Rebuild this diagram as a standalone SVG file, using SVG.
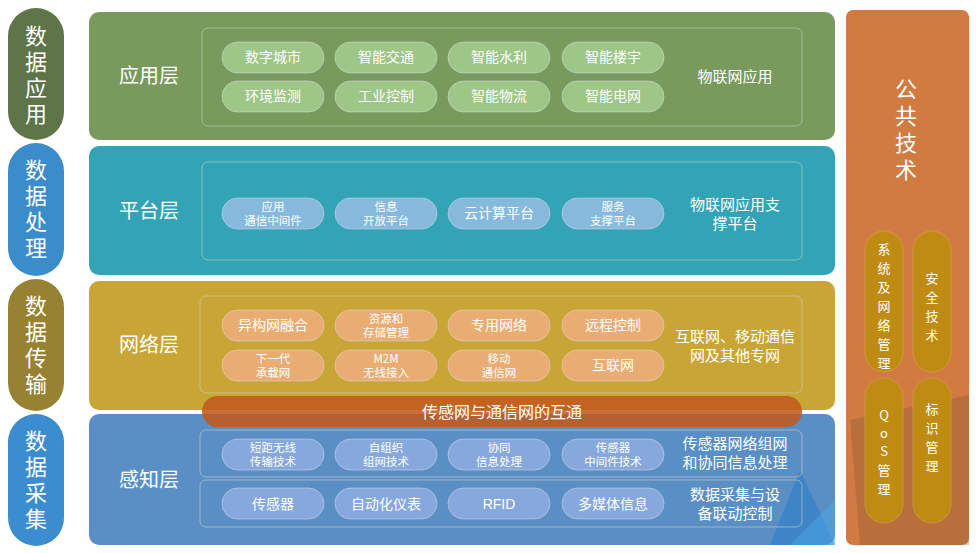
<svg xmlns="http://www.w3.org/2000/svg" width="979" height="553" viewBox="0 0 979 553">
<style>
text{font-family:"Noto Sans CJK SC","Liberation Sans",sans-serif;fill:#fff;text-anchor:middle}
.side{font-size:22px}
.layer{font-size:20px}
.chip{font-size:14px}
.chip2{font-size:11.5px}
.desc{font-size:15px}
.inner{fill:none;stroke:#c8d0c0;stroke-opacity:.6;stroke-width:1}
.c rect{stroke:#dde;stroke-opacity:.5}
</style>
<rect width="979" height="553" fill="#fff"/>
<g id="side-labels">
<rect x="8" y="8" width="56" height="132" rx="28" fill="#5d7549"/>
<text class="side" x="36" y="44">数</text><text class="side" x="36" y="70">据</text><text class="side" x="36" y="96">应</text><text class="side" x="36" y="122">用</text>
<rect x="8" y="143" width="56" height="133" rx="28" fill="#3a8ccb"/>
<text class="side" x="36" y="178">数</text><text class="side" x="36" y="204">据</text><text class="side" x="36" y="230">处</text><text class="side" x="36" y="256">理</text>
<rect x="8" y="279" width="56" height="132" rx="28" fill="#968232"/>
<text class="side" x="36" y="314">数</text><text class="side" x="36" y="340">据</text><text class="side" x="36" y="366">传</text><text class="side" x="36" y="392">输</text>
<rect x="8" y="414" width="56" height="132" rx="28" fill="#3c8dcf"/>
<text class="side" x="36" y="449">数</text><text class="side" x="36" y="475">据</text><text class="side" x="36" y="501">采</text><text class="side" x="36" y="527">集</text>
</g>
<g id="app-layer">
<rect x="89" y="12" width="746" height="128" rx="10" fill="#789a5c"/>
<text class="layer" x="149" y="83">应用层</text>
<rect class="inner" x="202" y="28" width="600" height="98" rx="6"/>
<g class="c" fill="#9dc687">
<rect x="222" y="42" width="102" height="31" rx="15.5"/><rect x="335" y="42" width="102" height="31" rx="15.5"/><rect x="448" y="42" width="102" height="31" rx="15.5"/><rect x="562" y="42" width="102" height="31" rx="15.5"/>
<rect x="222" y="81" width="102" height="31" rx="15.5"/><rect x="335" y="81" width="102" height="31" rx="15.5"/><rect x="448" y="81" width="102" height="31" rx="15.5"/><rect x="562" y="81" width="102" height="31" rx="15.5"/>
</g>
<text class="chip" x="273" y="62">数字城市</text><text class="chip" x="386" y="62">智能交通</text><text class="chip" x="499" y="62">智能水利</text><text class="chip" x="613" y="62">智能楼宇</text>
<text class="chip" x="273" y="101">环境监测</text><text class="chip" x="386" y="101">工业控制</text><text class="chip" x="499" y="101">智能物流</text><text class="chip" x="613" y="101">智能电网</text>
<text class="desc" x="735" y="82">物联网应用</text>
</g>
<g id="platform-layer">
<rect x="89" y="146" width="746" height="129" rx="10" fill="#33a4b5"/>
<text class="layer" x="149" y="218">平台层</text>
<rect class="inner" x="202" y="162" width="600" height="98" rx="6"/>
<g class="c" fill="#86b9dc">
<rect x="222" y="198" width="102" height="31" rx="15.5"/><rect x="335" y="198" width="102" height="31" rx="15.5"/><rect x="448" y="198" width="102" height="31" rx="15.5"/><rect x="562" y="198" width="102" height="31" rx="15.5"/>
</g>
<text class="chip2" x="273" y="211">应用</text><text class="chip2" x="273" y="225">通信中间件</text>
<text class="chip2" x="386" y="211">信息</text><text class="chip2" x="386" y="225">开放平台</text>
<text class="chip" x="499" y="218">云计算平台</text>
<text class="chip2" x="613" y="211">服务</text><text class="chip2" x="613" y="225">支撑平台</text>
<text class="desc" x="735" y="210">物联网应用支</text><text class="desc" x="735" y="229">撑平台</text>
</g>
<g id="network-layer">
<rect x="89" y="281" width="746" height="129" rx="10" fill="#c9a535"/>
<text class="layer" x="149" y="352">网络层</text>
<rect class="inner" x="200" y="296" width="602" height="97" rx="6"/>
<g class="c" fill="#e9ac72">
<rect x="222" y="310" width="102" height="31" rx="15.5"/><rect x="335" y="310" width="102" height="31" rx="15.5"/><rect x="448" y="310" width="102" height="31" rx="15.5"/><rect x="562" y="310" width="102" height="31" rx="15.5"/>
<rect x="222" y="350" width="102" height="31" rx="15.5"/><rect x="335" y="350" width="102" height="31" rx="15.5"/><rect x="448" y="350" width="102" height="31" rx="15.5"/><rect x="562" y="350" width="102" height="31" rx="15.5"/>
</g>
<text class="chip" x="273" y="330">异构网融合</text>
<text class="chip2" x="386" y="323">资源和</text><text class="chip2" x="386" y="337">存储管理</text>
<text class="chip" x="499" y="330">专用网络</text><text class="chip" x="613" y="330">远程控制</text>
<text class="chip2" x="273" y="363">下一代</text><text class="chip2" x="273" y="377">承载网</text>
<text class="chip2" x="386" y="363">M2M</text><text class="chip2" x="386" y="377">无线接入</text>
<text class="chip2" x="499" y="363">移动</text><text class="chip2" x="499" y="377">通信网</text>
<text class="chip" x="613" y="370">互联网</text>
<text class="desc" x="735" y="342">互联网、移动通信</text><text class="desc" x="735" y="361">网及其他专网</text>
</g>
<g id="sensing-layer">
<rect x="89" y="414" width="746" height="131" rx="10" fill="#5a8fc5"/>
<polygon points="770,545 800,470 835,545" fill="#2c7fc8" opacity=".6"/>
<polygon points="790,545 835,500 835,545" fill="#4aa8e8" opacity=".5"/>
<text class="layer" x="149" y="487">感知层</text>
<rect class="inner" x="200" y="430" width="602" height="47" rx="6"/>
<rect class="inner" x="200" y="480" width="602" height="47" rx="6"/>
<g class="c" fill="#86a8dc">
<rect x="222" y="439" width="102" height="31" rx="15.5"/><rect x="335" y="439" width="102" height="31" rx="15.5"/><rect x="448" y="439" width="102" height="31" rx="15.5"/><rect x="562" y="439" width="102" height="31" rx="15.5"/>
<rect x="222" y="488" width="102" height="31" rx="15.5"/><rect x="335" y="488" width="102" height="31" rx="15.5"/><rect x="448" y="488" width="102" height="31" rx="15.5"/><rect x="562" y="488" width="102" height="31" rx="15.5"/>
</g>
<text class="chip2" x="273" y="452">短距无线</text><text class="chip2" x="273" y="466">传输技术</text>
<text class="chip2" x="386" y="452">自组织</text><text class="chip2" x="386" y="466">组网技术</text>
<text class="chip2" x="499" y="452">协同</text><text class="chip2" x="499" y="466">信息处理</text>
<text class="chip2" x="613" y="452">传感器</text><text class="chip2" x="613" y="466">中间件技术</text>
<text class="chip" x="273" y="509">传感器</text><text class="chip" x="386" y="509">自动化仪表</text>
<text class="chip" x="499" y="509" style="font-family:'Liberation Sans',sans-serif">RFID</text><text class="chip" x="613" y="509">多媒体信息</text>
<text class="desc" x="735" y="449">传感器网络组网</text><text class="desc" x="735" y="468">和协同信息处理</text>
<text class="desc" x="735" y="500">数据采集与设</text><text class="desc" x="735" y="519">备联动控制</text>
</g>
<g id="interconnect">
<rect x="202" y="396" width="600" height="31" rx="15.5" fill="#c25a1e" opacity=".88"/>
<text x="502" y="418" style="font-size:16px">传感网与通信网的互通</text>
</g>
<g id="common-tech">
<rect x="846" y="10" width="123" height="535" rx="7" fill="#d17b42"/>
<polygon points="850,420 969,395 969,545 860,545" fill="#8a5a30" opacity=".35"/>
<text class="side" x="906" y="97">公</text><text class="side" x="906" y="124">共</text><text class="side" x="906" y="151">技</text><text class="side" x="906" y="178">术</text>
<g fill="#c08b12" stroke="#d6a55a" stroke-opacity=".6">
<rect x="865" y="231" width="38" height="141" rx="19"/><rect x="913" y="231" width="38" height="141" rx="19"/>
<rect x="865" y="378" width="38" height="145" rx="19"/><rect x="913" y="378" width="38" height="145" rx="19"/>
</g>
<g style="font-size:13px">
<text x="884" y="254">系</text><text x="884" y="273">统</text><text x="884" y="292">及</text><text x="884" y="311">网</text><text x="884" y="330">络</text><text x="884" y="349">管</text><text x="884" y="368">理</text>
<text x="932" y="283">安</text><text x="932" y="302">全</text><text x="932" y="321">技</text><text x="932" y="340">术</text>
<text x="884" y="420">Q</text><text x="884" y="438">o</text><text x="884" y="456">S</text><text x="884" y="475">管</text><text x="884" y="494">理</text>
<text x="932" y="414">标</text><text x="932" y="433">识</text><text x="932" y="452">管</text><text x="932" y="471">理</text>
</g>
</g>
</svg>
